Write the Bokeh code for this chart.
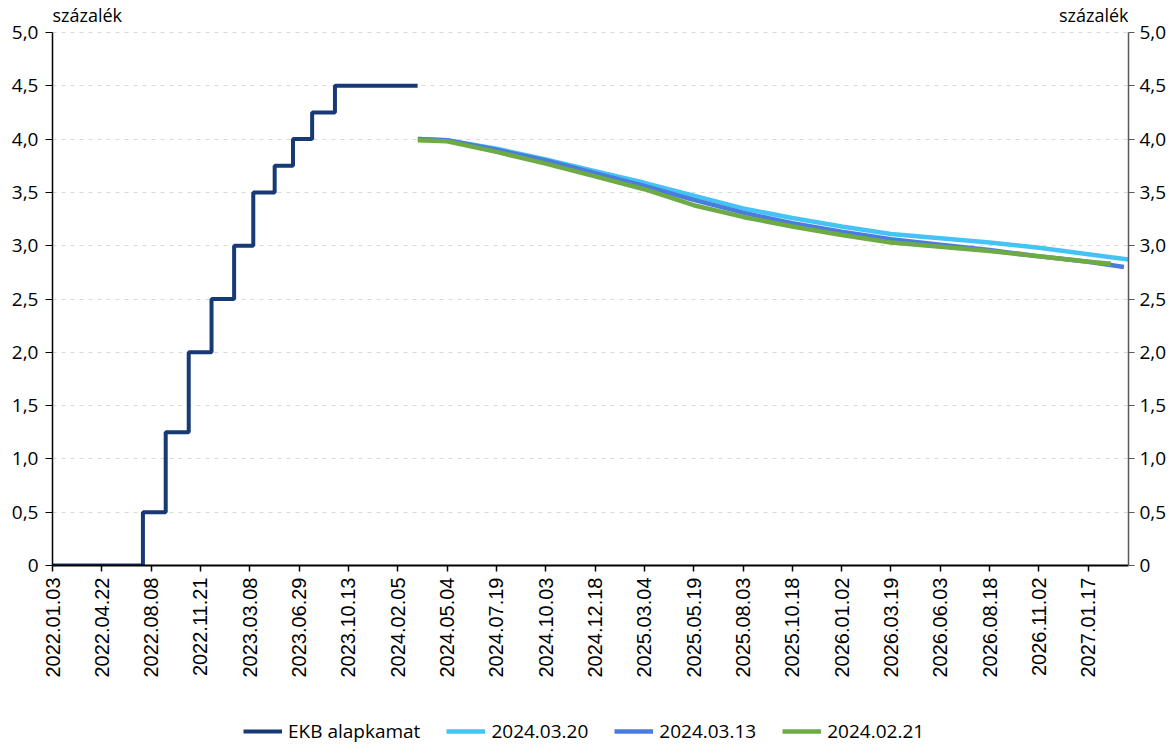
import numpy as np
from datetime import date
from bokeh.plotting import figure
from bokeh.layouts import column
from bokeh.models import Range1d, LinearAxis, FixedTicker, Legend, LegendItem, Label
from bokeh.embed import file_html
from bokeh.resources import INLINE

# ---------------- data ----------------
x_tick_labels = ["2022.01.03", "2022.04.22", "2022.08.08", "2022.11.21", "2023.03.08",
                 "2023.06.29", "2023.10.13", "2024.02.05", "2024.05.04", "2024.07.19",
                 "2024.10.03", "2024.12.18", "2025.03.04", "2025.05.19", "2025.08.03",
                 "2025.10.18", "2026.01.02", "2026.03.19", "2026.06.03", "2026.08.18",
                 "2026.11.02", "2027.01.17"]
y_tick_values = [0, 0.5, 1.0, 1.5, 2.0, 2.5, 3.0, 3.5, 4.0, 4.5, 5.0]
y_tick_labels = ["0", "0,5", "1,0", "1,5", "2,0", "2,5", "3,0", "3,5", "4,0", "4,5", "5,0"]

# ECB main rate (step changes)
ekb_dates = ["2022.01.03", "2022.07.21", "2022.09.08", "2022.10.27", "2022.12.15",
             "2023.02.02", "2023.03.16", "2023.05.04", "2023.06.15", "2023.07.27",
             "2023.09.14", "2024.03.19"]
ekb_rates = [0.0, 0.5, 1.25, 2.0, 2.5, 3.0, 3.5, 3.75, 4.0, 4.25, 4.5, 4.5]

# market-implied paths
fc_dates = ["2024.03.20", "2024.05.04", "2024.07.19", "2024.10.03", "2024.12.18",
            "2025.03.04", "2025.05.19", "2025.08.03", "2025.10.18", "2026.01.02",
            "2026.03.19", "2026.06.03", "2026.08.18", "2026.11.02", "2027.01.17"]
fc_0320 = [4.00, 3.99, 3.91, 3.81, 3.70, 3.59, 3.47, 3.35, 3.26, 3.18, 3.11, 3.07, 3.03, 2.98, 2.92]
fc_0320_end = ("2027.03.20", 2.87)
fc_0313 = [4.00, 3.99, 3.90, 3.80, 3.68, 3.56, 3.43, 3.31, 3.21, 3.13, 3.06, 3.01, 2.96, 2.90, 2.85]
fc_0313_end = ("2027.03.13", 2.80)
fc_0221 = [3.99, 3.98, 3.88, 3.77, 3.65, 3.53, 3.38, 3.27, 3.18, 3.10, 3.03, 2.99, 2.95, 2.90, 2.85]
fc_0221_end = ("2027.02.21", 2.83)

series_names = ["EKB alapkamat", "2024.03.20", "2024.03.13", "2024.02.21"]
colors = ["#173A74", "#45C3F5", "#4A7CDF", "#6EAB45"]

# ---------------- category-axis position mapping ----------------
TICK_STEP = 76        # categories between labelled ticks
N_HIST_TICKS = 8      # business-day spaced part (labels 0..7)
JUNCTION = "2024.03.21"


def dord(s):
    y, m, d = map(int, s.split("."))
    return date(y, m, d).toordinal()


hist_ord = [dord(s) for s in x_tick_labels[:N_HIST_TICKS]]
hist_pos = [i * TICK_STEP for i in range(N_HIST_TICKS)]
daily_ref = dord(x_tick_labels[N_HIST_TICKS])
daily_ref_pos = N_HIST_TICKS * TICK_STEP
junc_pos = daily_ref_pos - (daily_ref - dord(JUNCTION))
anchor_ord = hist_ord + [dord(JUNCTION)]
anchor_pos = hist_pos + [junc_pos]
fc_start = dord(fc_dates[0])


def pos(s):
    o = dord(s)
    if o >= fc_start and s not in ekb_dates:
        return daily_ref_pos + (o - daily_ref)
    return float(np.interp(o, anchor_ord, anchor_pos))


x_end = pos("2027.03.20")

# ---------------- layout constants ----------------
W = 1173
LEG_H = 30
H = 744 - LEG_H
FL, FR, FB = 52, 1128, 565       # frame left / right / bottom (pixels)
Y5_PIX = 32                       # pixel row of the 5.0 gridline
y_top = 5.0 * FB / (FB - Y5_PIX)  # frame reaches the top of the canvas
widths = [4, 4.5, 4.5, 4.5]

p = figure(width=W, height=H, output_backend="svg", toolbar_location=None,
           x_range=Range1d(0, x_end), y_range=Range1d(0, y_top),
           min_border_left=FL, min_border_right=W - FR, min_border_top=0,
           min_border_bottom=H - FB)
p.outline_line_color = None
p.background_fill_color = "white"
p.border_fill_color = "white"

# axes
xa = p.xaxis[0]
xa.ticker = FixedTicker(ticks=[i * TICK_STEP for i in range(len(x_tick_labels))])
xa.major_label_overrides = {i * TICK_STEP: lab for i, lab in enumerate(x_tick_labels)}
xa.major_label_orientation = np.pi / 2
xa.major_label_text_font = "Liberation Sans"
xa.major_label_text_font_size = "20px"
xa.major_label_text_color = "#000000"
xa.major_label_standoff = 6
xa.axis_line_color = "#000000"
xa.axis_line_width = 2
xa.major_tick_line_color = "#000000"
xa.major_tick_line_width = 1.5
xa.major_tick_out = 6
xa.major_tick_in = 0
xa.minor_tick_line_color = None

ya = p.yaxis[0]
ya.ticker = FixedTicker(ticks=y_tick_values)
ya.bounds = (0, 5)
ya.major_label_overrides = {v: l for v, l in zip(y_tick_values, y_tick_labels)}
ya.major_label_text_font = "Open Sans"
ya.major_label_text_font_size = "19px"
ya.major_label_text_color = "#000000"
ya.axis_line_color = "#000000"
ya.axis_line_width = 1.5
ya.major_tick_line_color = "#000000"
ya.major_tick_out = 7
ya.major_tick_in = 0
ya.minor_tick_line_color = None
ya.major_label_standoff = 7

ra = LinearAxis(ticker=FixedTicker(ticks=y_tick_values), bounds=(0, 5))
ra.major_label_overrides = {v: l for v, l in zip(y_tick_values, y_tick_labels)}
ra.major_label_text_font = "Open Sans"
ra.major_label_text_font_size = "19px"
ra.major_label_text_color = "#000000"
ra.axis_line_color = "#595959"
ra.axis_line_width = 1.5
ra.major_tick_line_color = "#595959"
ra.major_tick_out = 6
ra.major_tick_in = 0
ra.minor_tick_line_color = None
ra.major_label_standoff = 5
p.add_layout(ra, "right")

p.xgrid.visible = False
p.ygrid.ticker = FixedTicker(ticks=y_tick_values[1:])
p.ygrid.grid_line_color = "#D9D9D9"
p.ygrid.grid_line_dash = "4 5"
p.ygrid.grid_line_width = 1

# lines
ekb_x = [pos(d) for d in ekb_dates]
p.step(ekb_x, ekb_rates, mode="after", line_color=colors[0], line_width=widths[0])


def fc_xy(vals, end):
    xs = [pos(d) for d in fc_dates] + [pos(end[0])]
    ys = list(vals) + [end[1]]
    return xs, ys


x1, y1 = fc_xy(fc_0320, fc_0320_end)
x2, y2 = fc_xy(fc_0313, fc_0313_end)
x3, y3 = fc_xy(fc_0221, fc_0221_end)
p.line(x1, y1, line_color=colors[1], line_width=widths[1])
p.line(x2, y2, line_color=colors[2], line_width=widths[2])
p.line(x3, y3, line_color=colors[3], line_width=widths[3])

# unit labels
p.add_layout(Label(x=0, y=5, y_offset=6, text="százalék", text_align="left",
                   text_baseline="bottom", text_font="Open Sans", text_font_size="18px",
                   text_color="#000000"))
p.add_layout(Label(x=x_end, y=5, y_offset=6, text="százalék", text_align="right",
                   text_baseline="bottom", text_font="Open Sans", text_font_size="18px",
                   text_color="#000000"))

# ---------------- legend strip ----------------
lg = figure(width=W, height=LEG_H, output_backend="svg", toolbar_location=None,
            x_range=Range1d(0, 1), y_range=Range1d(0, 1),
            min_border_left=0, min_border_right=0, min_border_top=0, min_border_bottom=0)
lg.axis.visible = False
lg.grid.visible = False
lg.outline_line_color = None
items = []
for name, c, w in zip(series_names, colors, widths):
    # stand-in renderers lying outside the visible range, only used for legend swatches
    r = lg.line([5, 6], [5, 6], line_color=c, line_width=w)
    items.append(LegendItem(label=name, renderers=[r]))
legend = Legend(items=items, orientation="horizontal", location=(191, 0))
legend.label_text_font = "Open Sans"
legend.label_text_font_size = "19px"
legend.label_text_color = "#000000"
legend.glyph_width = 39
legend.label_standoff = 6
legend.spacing = 26
legend.border_line_color = None
legend.background_fill_alpha = 0
legend.margin = 0
legend.padding = 0
lg.add_layout(legend)

open("out.html", "w").write(file_html(column(p, lg, spacing=0), INLINE))
